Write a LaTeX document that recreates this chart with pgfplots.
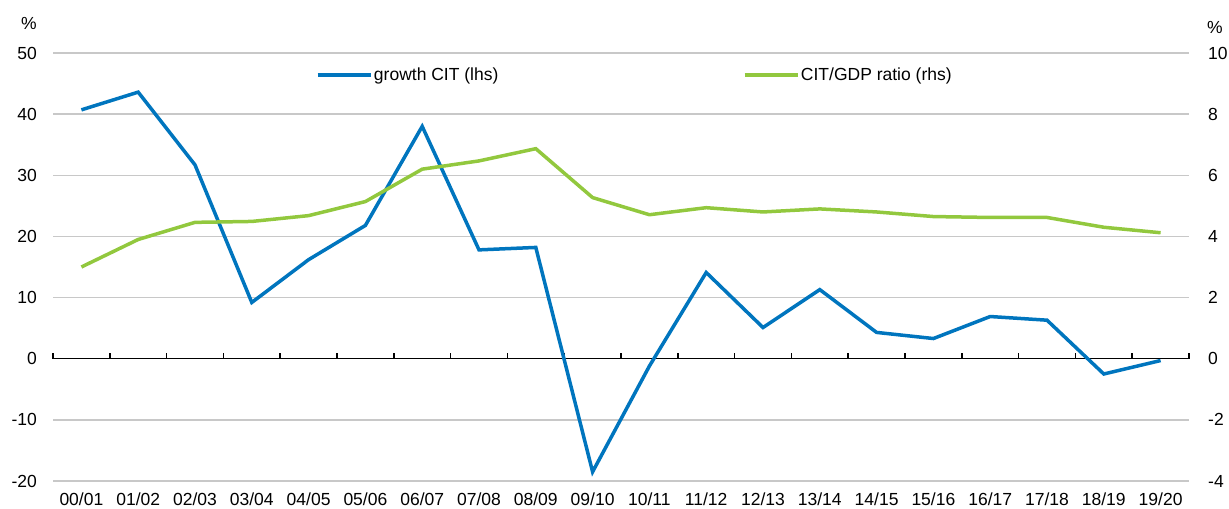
\documentclass[border=0pt]{standalone}
\usepackage{pgfplots}
\pgfplotsset{compat=1.18}
\usepackage{fontspec}
\setmainfont{Liberation Sans}
\definecolor{cblue}{RGB}{0,117,190}
\definecolor{cgreen}{RGB}{146,200,62}
\definecolor{cgrid}{RGB}{200,200,200}
\begin{document}
\fontsize{17.5}{20}\selectfont
\begin{tikzpicture}
\pgfplotsset{
  base/.style={
    scale only axis, width=1136pt, height=428pt,
    xmin=-0.5, xmax=19.5,
    axis line style={draw=none},
    major tick length=0pt,
    tick style={draw=none},
    tick label style={font=\fontsize{17.5}{20}\selectfont},
    clip=false,
  }
}
\begin{axis}[base, name=main,
  ymin=-20, ymax=50, ytick={-20,-10,0,10,20,30,40,50},
  yticklabels={-20,-10,0,10,20,30,40,50},
  axis y line*=left, axis x line*=bottom,
  xtick={0,...,19},
  xticklabels={00/01,01/02,02/03,03/04,04/05,05/06,06/07,07/08,08/09,09/10,10/11,11/12,12/13,13/14,14/15,15/16,16/17,17/18,18/19,19/20},
  ymajorgrids, grid style={cgrid, line width=1.5pt},
  yticklabel style={anchor=east, inner sep=0pt, xshift=-16pt},
  xticklabel style={anchor=north, inner sep=0pt, yshift=-12pt},
  legend style={draw=none, fill=none, at={(rel axis cs:0.2315,0.9486)}, anchor=west,
    inner sep=0pt, outer sep=0pt, font=\fontsize{17.5}{20}\selectfont,
    /tikz/every even column/.append style={column sep=243pt},
    nodes={inner sep=1.5pt, anchor=west}},
  legend columns=2,
  legend image code/.code={\draw[#1] (0pt,0pt) -- (53pt,0pt);},
]
\draw[black, line width=1.5pt] (axis cs:-0.5,0) -- (axis cs:19.5,0);
\pgfplotsinvokeforeach{0,...,20}{
  \draw[black, line width=1.5pt] (axis cs:#1-0.5,0) -- ++(0pt,6pt);
}
\addplot[cblue, line width=3.5pt] coordinates {
(0,40.7) (1,43.6) (2,31.7) (3,9.2) (4,16.2) (5,21.8) (6,38.0) (7,17.8) (8,18.2) (9,-18.5)
(10,-1.2) (11,14.1) (12,5.1) (13,11.3) (14,4.3) (15,3.3) (16,6.9) (17,6.3) (18,-2.5) (19,-0.3)
};
\addlegendentry{growth CIT (lhs)}
\addlegendimage{cgreen, line width=3.5pt}
\addlegendentry{CIT/GDP ratio (rhs)}
\end{axis}
\begin{axis}[base,
  ymin=-4, ymax=10, ytick={-4,-2,0,2,4,6,8,10},
  yticklabels={-4,-2,0,2,4,6,8,10},
  axis y line*=right, axis x line=none,
  yticklabel style={anchor=west, inner sep=0pt, xshift=19pt},
]
\addplot[cgreen, line width=3.5pt] coordinates {
(0,3.0) (1,3.9) (2,4.46) (3,4.49) (4,4.68) (5,5.14) (6,6.2) (7,6.47) (8,6.87) (9,5.27)
(10,4.71) (11,4.94) (12,4.8) (13,4.9) (14,4.8) (15,4.65) (16,4.62) (17,4.62) (18,4.3) (19,4.12)
};
\end{axis}
\node at ([xshift=-24pt,yshift=30pt]main.north west) {\%};
\node at ([xshift=26pt,yshift=26pt]main.north east) {\%};
\pgfresetboundingbox
\path[use as bounding box] ([xshift=-53pt,yshift=-28pt]main.south west) rectangle ([xshift=40pt,yshift=53pt]main.north east);
\end{tikzpicture}
\end{document}
